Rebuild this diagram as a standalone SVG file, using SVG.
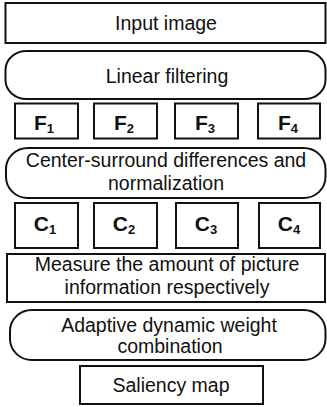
<svg xmlns="http://www.w3.org/2000/svg" width="327" height="407" viewBox="0 0 327 407">
<style>
.b{fill:#fff;stroke:#111;stroke-width:2}
.t{font-family:"Liberation Sans",Arial,sans-serif;font-size:19.5px;fill:#111;text-anchor:middle}
.l{font-family:"Liberation Sans",Arial,sans-serif;font-size:21px;font-weight:bold;fill:#111;text-anchor:middle}
.s{font-size:13px}
</style>
<rect width="327" height="407" fill="#fff"/>
<g id="input"><rect class="b" x="5.5" y="3" width="320" height="40"/><text class="t" x="166" y="30">Input image</text></g>
<g id="linear"><rect class="b" x="5.5" y="51" width="320" height="48" rx="21" ry="19"/><text class="t" x="167" y="83">Linear filtering</text></g>
<g id="f1"><rect class="b" x="15" y="103.5" width="63" height="35"/><text class="l" x="44" y="130">F<tspan class="s" dy="3">1</tspan></text></g>
<g id="f2"><rect class="b" x="94" y="103.5" width="63" height="35"/><text class="l" x="124" y="130">F<tspan class="s" dy="3">2</tspan></text></g>
<g id="f3"><rect class="b" x="175" y="103.5" width="63" height="35"/><text class="l" x="205" y="130">F<tspan class="s" dy="3">3</tspan></text></g>
<g id="f4"><rect class="b" x="258" y="103.5" width="62" height="35"/><text class="l" x="288" y="130">F<tspan class="s" dy="3">4</tspan></text></g>
<g id="center"><rect class="b" x="6" y="148" width="319.5" height="50" rx="22" ry="21"/><text class="t" x="166" y="167">Center-surround differences and</text><text class="t" x="166" y="190">normalization</text></g>
<g id="c1"><rect class="b" x="15" y="203" width="63" height="45"/><text class="l" x="45" y="231">C<tspan class="s" dy="3">1</tspan></text></g>
<g id="c2"><rect class="b" x="94" y="203" width="63" height="45"/><text class="l" x="124" y="231">C<tspan class="s" dy="3">2</tspan></text></g>
<g id="c3"><rect class="b" x="176" y="203" width="62" height="45"/><text class="l" x="206" y="231">C<tspan class="s" dy="3">3</tspan></text></g>
<g id="c4"><rect class="b" x="259" y="203" width="61" height="45"/><text class="l" x="289" y="231">C<tspan class="s" dy="3">4</tspan></text></g>
<g id="measure"><rect class="b" x="7" y="254" width="318" height="48"/><text class="t" x="167" y="271">Measure the amount of picture</text><text class="t" x="167" y="294">information respectively</text></g>
<g id="adaptive"><rect class="b" x="10" y="310" width="315.5" height="50" rx="22" ry="21"/><text class="t" x="169" y="332">Adaptive dynamic weight</text><text class="t" x="170" y="353">combination</text></g>
<g id="saliency"><rect class="b" x="80" y="366" width="183" height="38"/><text class="t" x="171" y="392">Saliency map</text></g>
</svg>
